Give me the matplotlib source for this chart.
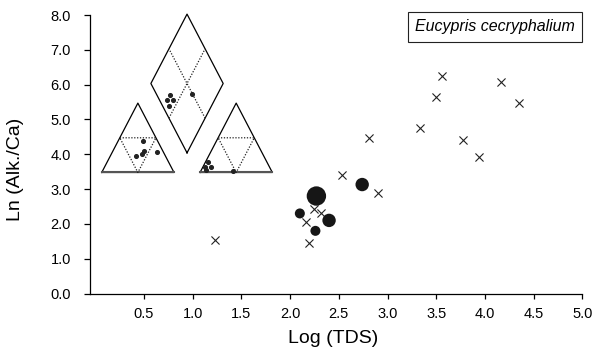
import matplotlib
matplotlib.use("Agg")
import matplotlib.pyplot as plt
import numpy as np

plt.rcParams["font.family"] = ["Liberation Sans", "DejaVu Sans"]

# main scatter: crosses (other samples) and filled circles (species sites)
cross_log_tds = [1.23, 2.53, 2.25, 2.32, 2.16, 2.19, 2.90, 2.81, 3.33, 3.50, 3.56, 3.77, 3.94, 4.17, 4.35]
cross_ln_alk_ca = [1.54, 3.41, 2.42, 2.30, 2.06, 1.44, 2.90, 4.47, 4.76, 5.65, 6.26, 4.41, 3.91, 6.08, 5.46]

site_log_tds = [2.27, 2.74, 2.10, 2.40, 2.26]
site_ln_alk_ca = [2.80, 3.13, 2.30, 2.10, 1.80]
site_abundance = [3, 2, 1, 2, 1]

x_ticks = [0.5, 1.0, 1.5, 2.0, 2.5, 3.0, 3.5, 4.0, 4.5, 5.0]
y_ticks = [0.0, 1.0, 2.0, 3.0, 4.0, 5.0, 6.0, 7.0, 8.0]

# Piper inset compositions (fractions)
cation_na_k = [0.34, 0.62, 0.43, 0.42, 0.36]
cation_mg = [0.46, 0.30, 0.31, 0.27, 0.24]
anion_cl = [0.03, 0.03, 0.11, 0.06, 0.44]
anion_so4 = [0.15, 0.08, 0.075, 0.036, 0.026]
diamond_a = [0.18, 0.10, 0.18, 0.09, 0.49]
diamond_b = [0.65, 0.66, 0.58, 0.59, 0.36]

SIZE_FOR_ABUNDANCE = {1: 52, 2: 93, 3: 195}
H = np.sqrt(3) / 2
GAP = 0.36
D_BOTTOM = 0.245
DOTS = (0, (1, 1.3))


fig = plt.figure(figsize=(6.03, 3.6), dpi=100)
ax = fig.add_axes([0.1493, 0.1847, 0.8164, 0.7736])

ax.scatter(cross_log_tds, cross_ln_alk_ca, marker="x", s=34, color="#222222",
           linewidths=0.8, zorder=3)
ax.scatter(site_log_tds, site_ln_alk_ca, s=[SIZE_FOR_ABUNDANCE[a] for a in site_abundance],
           color="#161616", edgecolors="none", zorder=4)

ax.set_xlim(-0.054, 5.0)
ax.set_ylim(0, 8.0)
ax.set_xticks(x_ticks)
ax.set_xticklabels([f"{v:.1f}" for v in x_ticks])
ax.set_yticks(y_ticks)
ax.set_yticklabels([f"{v:.1f}" for v in y_ticks])
for side in ("top", "right"):
    ax.spines[side].set_visible(False)
for side in ("left", "bottom"):
    ax.spines[side].set_linewidth(0.9)
ax.tick_params(axis="y", direction="out", length=4.3, width=0.9, pad=9.5, labelsize=10.5)
ax.tick_params(axis="x", direction="out", length=3.5, width=0.9, pad=6, labelsize=10.5)

ax.set_xlabel("Log (TDS)", fontsize=14)
ax.set_ylabel("Ln (Alk./Ca)", fontsize=14)
ax.xaxis.set_label_coords(0.494, -0.131)
ax.yaxis.set_label_coords(-0.134, 0.445)

fig.text(0.821, 0.925, "Eucypris cecryphalium", fontsize=11.5, style="italic",
         ha="center", va="center",
         bbox=dict(boxstyle="square,pad=0.45", facecolor="white", edgecolor="#222222",
                   linewidth=0.8))

# Piper-style inset
ins = fig.add_axes([95 / 603, 0.5, 185 / 603, 175 / 360])
ins.set_xlim(-0.093, 2.466)
ins.set_ylim(-0.094, 2.091)
ins.axis("off")


def draw_triangle(x0):
    xs = [x0, x0 + 1, x0 + 0.5, x0]
    ys = [0, 0, H, 0]
    ins.plot(xs, ys, color="black", lw=0.9)
    ins.plot([x0, x0 + 1], [0, 0], color="#555555", lw=1.5)
    mx = [x0 + 0.25, x0 + 0.75, x0 + 0.5, x0 + 0.25]
    my = [H / 2, H / 2, 0, H / 2]
    ins.plot(mx, my, color="#222222", lw=0.9, ls=DOTS)


draw_triangle(0.0)
draw_triangle(1 + GAP)

bx, by = 1 + GAP / 2, D_BOTTOM
ins.plot([bx, bx + 0.5, bx, bx - 0.5, bx], [by, by + H, by + 2 * H, by + H, by],
         color="black", lw=0.9)
ins.plot([bx - 0.25, bx + 0.25], [by + H / 2, by + 1.5 * H], color="#222222", lw=0.9, ls=DOTS)
ins.plot([bx + 0.25, bx - 0.25], [by + H / 2, by + 1.5 * H], color="#222222", lw=0.9, ls=DOTS)

na = np.array(cation_na_k)
mg = np.array(cation_mg)
ins.scatter(na + mg * 0.5, mg * H, s=7, color="#222222", zorder=5)
cl = np.array(anion_cl)
so4 = np.array(anion_so4)
ins.scatter(1 + GAP + cl + so4 * 0.5, so4 * H, s=7, color="#222222", zorder=5)
da = np.array(diamond_a)
db = np.array(diamond_b)
ins.scatter(bx + 0.5 * (da - db), by + H * (da + db), s=7, color="#222222", zorder=5)

fig.savefig("out.png", dpi=100, facecolor="white")
